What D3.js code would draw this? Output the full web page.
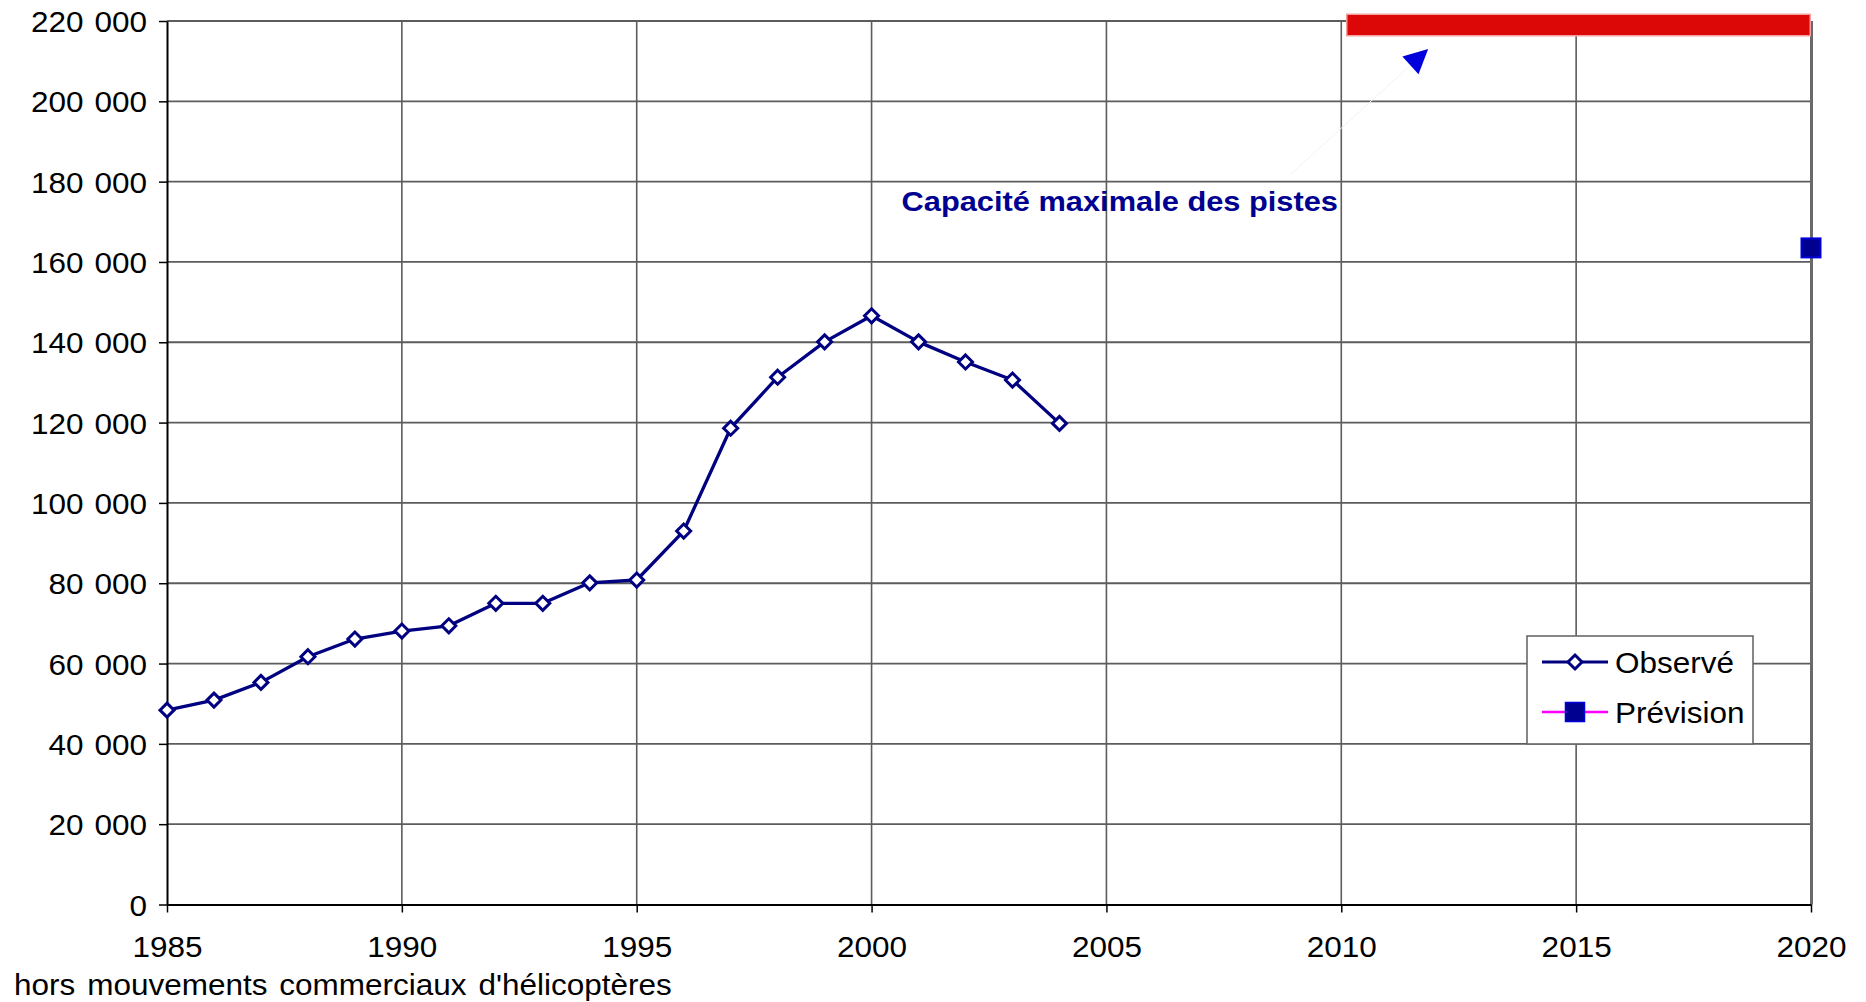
<!DOCTYPE html>
<html><head><meta charset="utf-8">
<script src="https://cdn.jsdelivr.net/npm/d3@7"></script>
<style>body{margin:0;background:#fff} svg{display:block} text{font-family:"Liberation Sans",Arial,sans-serif}</style>
</head><body><svg id="c" width="1866" height="1002"></svg>
<script>
const years = [1985,1986,1987,1988,1989,1990,1991,1992,1993,1994,1995,1996,1997,1998,1999,2000,2001,2002,2003,2004];
const observed = [48400,50900,55300,61700,66100,68100,69400,75000,75000,80100,80800,93000,118600,131300,140100,146600,140100,135100,130600,119800];
const forecastYears = [2020];
const forecast = [163500];
const capacityYears = [2010.1, 2020];
const capacityValue = 219000;
const capacityLabel = "Capacité maximale des pistes";
const arrowFrom = [2008.9, 181600];
const arrowTo = [2011.85, 213000];
const yTicks = [0,20000,40000,60000,80000,100000,120000,140000,160000,180000,200000,220000];
const yTickLabels = ["0","20 000","40 000","60 000","80 000","100 000","120 000","140 000","160 000","180 000","200 000","220 000"];
const xTicks = [1985,1990,1995,2000,2005,2010,2015,2020];
const xTickLabels = ["1985","1990","1995","2000","2005","2010","2015","2020"];
const seriesNames = ["Observé","Prévision"];
const footnote = "hors mouvements commerciaux d'hélicoptères";

const SX = 1.05, FS = 30;
const svg = d3.select('#c');
const x = d3.scaleLinear().domain([1985,2020]).range([167,1811]);
const y = d3.scaleLinear().domain([0,220000]).range([904.5,21]);

// gridlines
svg.append('g').selectAll('line').data(yTicks.slice(1)).join('line')
  .attr('x1', x(1985)).attr('x2', x(2020)).attr('y1', d=>y(d)).attr('y2', d=>y(d))
  .attr('stroke','#5c5c5c').attr('stroke-width',1.8);
svg.append('g').selectAll('line').data(xTicks.slice(1,-1)).join('line')
  .attr('x1', d=>x(d)).attr('x2', d=>x(d)).attr('y1', y(0)).attr('y2', y(220000))
  .attr('stroke','#5c5c5c').attr('stroke-width',1.6);
// right border
svg.append('line').attr('x1',x(2020)+0.5).attr('x2',x(2020)+0.5).attr('y1',y(220000)).attr('y2',y(0))
  .attr('stroke','#6a6a6a').attr('stroke-width',3);

// axes
const yAxis = d3.axisLeft(y).tickValues(yTicks).tickFormat((d,i)=>yTickLabels[i]).tickSize(8).tickSizeOuter(0);
const gy = svg.append('g').attr('transform',`translate(${x(1985)},0)`).call(yAxis);
gy.select('.domain').attr('stroke','#000').attr('stroke-width',2);
gy.selectAll('.tick line').attr('stroke','#000').attr('stroke-width',1.5);
gy.selectAll('.tick text').attr('x',0).attr('dy',null).attr('font-size',FS).attr('fill','#000')
  .attr('word-spacing','2px').attr('transform',`translate(-20,10.5) scale(${SX},1)`);

const xAxis = d3.axisBottom(x).tickValues(xTicks).tickFormat((d,i)=>xTickLabels[i]).tickSize(8).tickSizeOuter(0);
const gx = svg.append('g').attr('transform',`translate(0,${y(0)})`).call(xAxis);
gx.select('.domain').attr('stroke','#000').attr('stroke-width',2);
gx.selectAll('.tick line').attr('stroke','#000').attr('stroke-width',1.5);
gx.selectAll('.tick text').attr('y',0).attr('dy',null).attr('font-size',FS).attr('fill','#000')
  .attr('transform',`translate(0,52) scale(${SX},1)`);

// capacity bar
svg.append('line').attr('x1',x(capacityYears[0])).attr('x2',x(capacityYears[1]))
  .attr('y1',y(capacityValue)).attr('y2',y(capacityValue))
  .attr('stroke','#f2a0a0').attr('stroke-width',23);
svg.append('line').attr('x1',x(capacityYears[0])+1.5).attr('x2',x(capacityYears[1])-1.5)
  .attr('y1',y(capacityValue)).attr('y2',y(capacityValue))
  .attr('stroke','#dc0808').attr('stroke-width',20);

// annotation
const ax0 = x(arrowFrom[0]), ay0 = y(arrowFrom[1]), ax1 = x(arrowTo[0]), ay1 = y(arrowTo[1]);
svg.append('line').attr('x1',ax0).attr('y1',ay0).attr('x2',ax1).attr('y2',ay1)
  .attr('stroke','#f3f3f3').attr('stroke-width',1);
{
  const dx = ax1-ax0, dy = ay1-ay0, L = Math.hypot(dx,dy), ux = dx/L, uy = dy/L;
  const len = 24, hw = 12;
  const bx = ax1-ux*len, by = ay1-uy*len;
  svg.append('path').attr('d',`M${ax1},${ay1}L${bx-uy*hw},${by+ux*hw}L${bx+uy*hw},${by-ux*hw}Z`).attr('fill','#0000dd');
}
svg.append('text').attr('transform',`translate(${x(2009.93)},${y(172600)}) scale(1.12,1)`)
  .attr('text-anchor','end').attr('font-weight','bold').attr('font-size',27.5).attr('fill','#000090')
  .text(capacityLabel);

// observed line
const obs = years.map((d,i)=>({year:d, value:observed[i]}));
svg.append('path').datum(obs).attr('fill','none').attr('stroke','#000080').attr('stroke-width',3.3)
  .attr('stroke-linejoin','round')
  .attr('d', d3.line().x(d=>x(d.year)).y(d=>y(d.value)));
const diamond = 'M0,-7L7,0L0,7L-7,0Z';
svg.append('g').selectAll('path').data(obs).join('path')
  .attr('transform',d=>`translate(${x(d.year)},${y(d.value)})`).attr('d',diamond)
  .attr('fill','#fff').attr('stroke','#000080').attr('stroke-width',3);

// forecast
const fc = forecastYears.map((d,i)=>({year:d, value:forecast[i]}));
svg.append('g').selectAll('rect').data(fc).join('rect')
  .attr('x',d=>x(d.year)-9.5).attr('y',d=>y(d.value)-9.5).attr('width',19).attr('height',19)
  .attr('fill','#000090').attr('stroke','#0000dd').attr('stroke-width',2);

// legend
const lg = svg.append('g');
lg.append('rect').attr('x',1527).attr('y',636).attr('width',226).attr('height',108)
  .attr('fill','#fff').attr('stroke','#6a6a6a').attr('stroke-width',1.6);
lg.append('line').attr('x1',1542).attr('x2',1608).attr('y1',662).attr('y2',662).attr('stroke','#000080').attr('stroke-width',3);
lg.append('path').attr('transform','translate(1575,662)').attr('d',diamond).attr('fill','#fff').attr('stroke','#000080').attr('stroke-width',3);
lg.append('line').attr('x1',1542).attr('x2',1608).attr('y1',712).attr('y2',712).attr('stroke','#ff00ff').attr('stroke-width',2.5);
lg.append('rect').attr('x',1565.5).attr('y',702.5).attr('width',19).attr('height',19).attr('fill','#000090').attr('stroke','#0000dd').attr('stroke-width',1.5);
lg.selectAll('text').data(seriesNames).join('text')
  .attr('transform',(d,i)=>`translate(1615,${673+i*49.5}) scale(${SX},1)`)
  .attr('font-size',FS).attr('fill','#000').text(d=>d);

// footnote
svg.append('text').attr('transform',`translate(14,995) scale(${SX},1)`).attr('font-size',FS).attr('word-spacing','3px').attr('fill','#000').text(footnote);
</script></body></html>
